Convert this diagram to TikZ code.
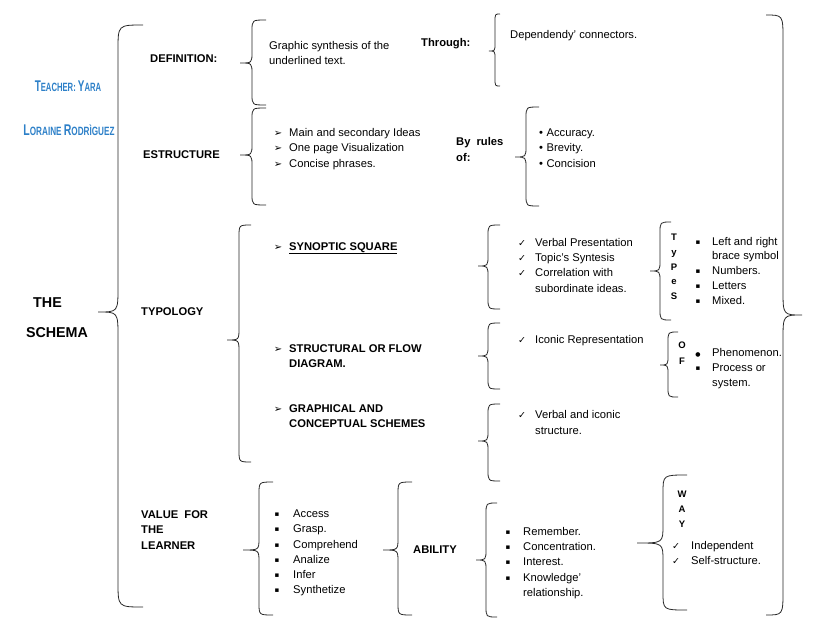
\documentclass[tikz,border=0pt]{standalone}
\usepackage{fontspec}
\usepackage{graphicx}
\setmainfont{Liberation Sans}
\newfontfamily\symf{DejaVu Sans}
\definecolor{teach}{RGB}{45,128,200}
\newcommand\scs{\fontsize{12}{13}\selectfont}
\newcommand\scb{\fontsize{15.5}{16}\selectfont}
% xend, xv, xtip, ytop, ytip, ybot, c
\newcommand\BrL[7]{%
  \draw[brc] (#1,#4) .. controls (#2,#4) .. (#2,#4+#7) -- (#2,#5-#7)
    .. controls (#2,#5) .. (#3,#5) .. controls (#2,#5) .. (#2,#5+#7)
    -- (#2,#6-#7) .. controls (#2,#6) .. (#1,#6);}
\tikzset{
  brc/.style={draw=black!85, line width=0.8pt},
  tx/.style={anchor=base west, inner sep=0pt, font=\fontsize{11.2}{13}\selectfont},
  bx/.style={anchor=base west, inner sep=0pt, font=\fontsize{11.2}{13}\selectfont\bfseries},
  big/.style={anchor=base, inner sep=0pt, font=\fontsize{14.3}{16}\selectfont\bfseries},
  arr/.style={anchor=base, inner sep=0pt, font=\symf\fontsize{10}{11}\selectfont},
  chk/.style={anchor=base, inner sep=0pt, font=\symf\fontsize{9.5}{10}\selectfont},
  sq/.style={anchor=base, inner sep=0pt, font=\symf\fontsize{7}{8}\selectfont},
  dot/.style={anchor=base, inner sep=0pt, font=\symf\fontsize{6}{7}\selectfont},
  ltr/.style={anchor=base, inner sep=0pt, font=\fontsize{9.5}{10}\selectfont\bfseries},
  tch/.style={anchor=center, inner sep=0pt, text=teach, font=\bfseries},
}
\begin{document}
\begin{tikzpicture}[x=1pt,y=-1pt]
\useasboundingbox (0,0) rectangle (821,634);

% ---------- braces ----------
\BrL{143}{118}{98}{25}{312}{607}{25}
\BrL{266}{252}{240}{20}{63}{105}{11}
\BrL{266}{252}{240}{108}{155}{205}{11}
\BrL{500}{495}{489}{14}{51}{86}{8}
\BrL{539}{526}{515}{107}{157}{206}{11}
\BrL{251}{239}{227}{225}{340}{462}{12}
\BrL{500}{488}{478}{225}{266}{309}{11}
\BrL{500}{488}{478}{323}{356}{389}{11}
\BrL{500}{488}{478}{404}{441}{481}{11}
\BrL{671}{660}{650}{222}{271}{320}{11}
\BrL{678}{668}{660}{332}{365}{397}{10}
\BrL{273}{259}{243}{482}{550}{615}{12}
\BrL{412}{398}{383}{482}{550}{615}{12}
\BrL{497}{486}{476}{503}{560}{617}{11}
\BrL{687}{663}{637}{475}{543}{610}{18}
\BrL{766}{783}{802}{15}{315}{615}{25}

% ---------- teacher ----------
\node[tch] (t1) at (68,86) {\scalebox{0.64}[1]{\scb T\scs EACHER: \scb Y\scs ARA}};
\node[tch] (t2) at (69,130) {\scalebox{0.68}[1]{\scb L\scs ORAINE \scb R\scs ODRÌGUEZ}};

% ---------- the schema ----------
\node[big] (the) at (47.5,307) {THE};
\node[big] (sch) at (57,337) {SCHEMA};

% ---------- definition ----------
\node[bx] (def) at (150,63) {DEFINITION:};
\node[tx] (gs1) at (269,49) {Graphic synthesis of the};
\node[tx] (gs2) at (269,64) {underlined text.};
\node[bx] (thr) at (421,46) {Through:};
\node[tx] (dep) at (510,39) {Dependendy’ connectors.};

% ---------- estructure ----------
\node[bx] (est) at (143,158) {ESTRUCTURE};
\node[arr] (ea1) at (278,136) {➢};
\node[tx]  (et1) at (289,136) {Main and secondary Ideas};
\node[arr] (ea2) at (278,151) {➢};
\node[tx]  (et2) at (289,151) {One page Visualization};
\node[arr] (ea3) at (278,167) {➢};
\node[tx]  (et3) at (289,167) {Concise phrases.};
\node[bx] (byr) at (456,145) {By\hspace{3pt} rules};
\node[bx] (byo) at (456,161) {of:};
\node[tx] (ru1) at (539,136) {•\hspace{3.5pt}Accuracy.};
\node[tx] (ru2) at (539,151) {•\hspace{3.5pt}Brevity.};
\node[tx] (ru3) at (539,167) {•\hspace{3.5pt}Concision};

% ---------- typology ----------
\node[bx] (typ) at (141,315) {TYPOLOGY};
\node[arr] (ta1) at (278,250) {➢};
\node[bx]  (tt1) at (289,250) {\underline{SYNOPTIC SQUARE}};
\node[arr] (ta2) at (278,352) {➢};
\node[bx]  (tt2) at (289,352) {STRUCTURAL OR FLOW};
\node[bx]  (tt2b) at (289,367) {DIAGRAM.};
\node[arr] (ta3) at (278,412) {➢};
\node[bx]  (tt3) at (289,412) {GRAPHICAL AND};
\node[bx]  (tt3b) at (289,427) {CONCEPTUAL SCHEMES};

\node[chk] (c1) at (522,246) {✓};
\node[tx]  (v1) at (535,246) {Verbal Presentation};
\node[chk] (c2) at (522,261) {✓};
\node[tx]  (v2) at (535,261) {Topic's Syntesis};
\node[chk] (c3) at (522,276) {✓};
\node[tx]  (v3) at (535,276) {Correlation with};
\node[tx]  (v3b) at (535,292) {subordinate ideas.};
\node[chk] (c4) at (522,343) {✓};
\node[tx]  (v4) at (535,343) {Iconic Representation};
\node[chk] (c5) at (522,418) {✓};
\node[tx]  (v5) at (535,418) {Verbal and iconic};
\node[tx]  (v5b) at (535,434) {structure.};

% types
\node[ltr] (L1) at (674,240) {T};
\node[ltr] (L2) at (674,255) {y};
\node[ltr] (L3) at (674,270) {P};
\node[ltr] (L4) at (674,284) {e};
\node[ltr] (L5) at (674,299) {S};
\node[sq] (s1) at (698,244) {▪};
\node[tx] (y1) at (712,245) {Left and right};
\node[tx] (y1b) at (712,259) {brace symbol};
\node[sq] (s2) at (698,273) {▪};
\node[tx] (y2) at (712,274) {Numbers.};
\node[sq] (s3) at (698,288) {▪};
\node[tx] (y3) at (712,289) {Letters};
\node[sq] (s4) at (698,303) {▪};
\node[tx] (y4) at (712,304) {Mixed.};

% of
\node[ltr] (O1) at (682,348) {O};
\node[ltr] (O2) at (682,364) {F};
\node[dot] (d1) at (698,356) {●};
\node[tx] (p1) at (712,356) {Phenomenon.};
\node[sq] (d2) at (698,370) {▪};
\node[tx] (p2) at (712,371) {Process or};
\node[tx] (p2b) at (712,386) {system.};

% ---------- value ----------
\node[bx] (va1) at (141,518) {VALUE\hspace{3pt} FOR};
\node[bx] (va2) at (141,533) {THE};
\node[bx] (va3) at (141,549) {LEARNER};
\node[sq] (q1) at (277,516) {▪};
\node[tx] (a1) at (293,517) {Access};
\node[sq] (q2) at (277,531) {▪};
\node[tx] (a2) at (293,532) {Grasp.};
\node[sq] (q3) at (277,547) {▪};
\node[tx] (a3) at (293,548) {Comprehend};
\node[sq] (q4) at (277,562) {▪};
\node[tx] (a4) at (293,563) {Analize};
\node[sq] (q5) at (277,577) {▪};
\node[tx] (a5) at (293,578) {Infer};
\node[sq] (q6) at (277,592) {▪};
\node[tx] (a6) at (293,593) {Synthetize};

\node[bx] (abi) at (413,553) {ABILITY};
\node[sq] (r1) at (508,534) {▪};
\node[tx] (b1) at (523,535) {Remember.};
\node[sq] (r2) at (508,549) {▪};
\node[tx] (b2) at (523,550) {Concentration.};
\node[sq] (r3) at (508,564) {▪};
\node[tx] (b3) at (523,565) {Interest.};
\node[sq] (r4) at (508,580) {▪};
\node[tx] (b4) at (523,581) {Knowledge’};
\node[tx] (b4b) at (523,596) {relationship.};

\node[ltr] (W1) at (682,497) {W};
\node[ltr] (W2) at (682,512) {A};
\node[ltr] (W3) at (682,527) {Y};
\node[chk] (k1) at (676,549) {✓};
\node[tx] (w1) at (691,549) {Independent};
\node[chk] (k2) at (676,564) {✓};
\node[tx] (w2) at (691,564) {Self-structure.};
\end{tikzpicture}
\end{document}
